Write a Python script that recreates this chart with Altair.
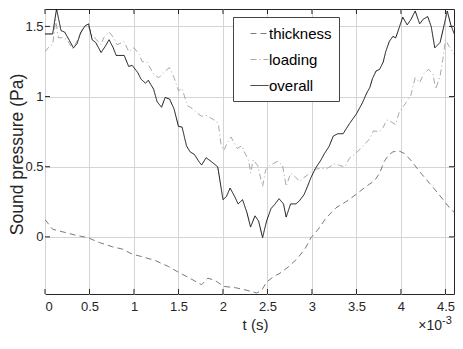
import altair as alt
import pandas as pd

# ---- data (t in units of 1e-3 s, sound pressure in Pa) ----
series_names = ["thickness", "loading", "overall"]

thickness_t = [0, 0.086, 0.235, 0.35, 0.48, 0.61, 0.76, 0.87, 0.98, 1.09, 1.24, 1.39, 1.50, 1.62, 1.76, 1.83,
               1.91, 2.01, 2.14, 2.27, 2.38, 2.435, 2.49, 2.57, 2.64, 2.73, 2.83, 2.92, 2.99, 3.07, 3.16, 3.27,
               3.39, 3.50, 3.61, 3.70, 3.76, 3.81, 3.86, 3.91, 3.975, 4.04, 4.11, 4.21, 4.32, 4.43, 4.54, 4.65]
thickness_p = [0.124, 0.054, 0.03, 0.011, -0.005, -0.04, -0.071, -0.087, -0.123, -0.141, -0.169, -0.212,
               -0.252, -0.292, -0.341, -0.294, -0.31, -0.353, -0.362, -0.381, -0.40, -0.381, -0.322, -0.282,
               -0.259, -0.216, -0.158, -0.087, -0.005, 0.054, 0.136, 0.207, 0.254, 0.305, 0.36, 0.399, 0.453,
               0.536, 0.583, 0.606, 0.613, 0.594, 0.547, 0.465, 0.383, 0.30, 0.212, 0.141]

loading_t = [0, 0.05, 0.086, 0.12, 0.15, 0.20, 0.25, 0.31, 0.37, 0.42, 0.48, 0.53, 0.58, 0.63, 0.66, 0.72,
             0.77, 0.81, 0.89, 0.94, 1.00, 1.06, 1.09, 1.15, 1.22, 1.28, 1.35, 1.40, 1.45, 1.50, 1.54, 1.60,
             1.65, 1.71, 1.76, 1.82, 1.865, 1.93, 1.95, 1.98, 2.01, 2.04, 2.09, 2.12, 2.16, 2.21, 2.24, 2.29,
             2.31, 2.34, 2.39, 2.445, 2.48, 2.53, 2.57, 2.62, 2.67, 2.71, 2.76, 2.81, 2.86, 2.90, 2.95, 2.99,
             3.05, 3.11, 3.16, 3.22, 3.27, 3.31, 3.37, 3.42, 3.50, 3.57, 3.65, 3.69, 3.76, 3.80, 3.84, 3.89,
             3.94, 3.98, 4.02, 4.06, 4.11, 4.16, 4.21, 4.26, 4.31, 4.36, 4.39, 4.44, 4.47, 4.50, 4.54, 4.58,
             4.61, 4.65]
loading_p = [1.319, 1.358, 1.37, 1.547, 1.418, 1.42, 1.405, 1.34, 1.405, 1.476, 1.511, 1.434, 1.405, 1.37,
             1.42, 1.462, 1.42, 1.37, 1.391, 1.32, 1.348, 1.299, 1.25, 1.243, 1.159, 1.135, 1.182, 1.206,
             1.135, 1.041, 1.058, 0.935, 0.917, 0.882, 0.86, 0.865, 0.846, 0.822, 0.794, 0.653, 0.618, 0.658,
             0.712, 0.677, 0.63, 0.649, 0.606, 0.54, 0.455, 0.55, 0.508, 0.36, 0.477, 0.512, 0.524, 0.54,
             0.508, 0.36, 0.453, 0.43, 0.395, 0.418, 0.441, 0.465, 0.484, 0.489, 0.484, 0.508, 0.524, 0.508,
             0.50, 0.56, 0.60, 0.645, 0.70, 0.755, 0.75, 0.78, 0.833, 0.82, 0.80, 0.889, 0.924, 0.959, 1.006,
             1.135, 1.10, 1.166, 1.194, 1.159, 1.053, 1.147, 1.264, 1.405, 1.358, 1.323, 1.288, 1.335]

overall_t = [0, 0.086, 0.13, 0.18, 0.22, 0.27, 0.32, 0.36, 0.40, 0.45, 0.49, 0.53, 0.57, 0.63, 0.675, 0.72,
             0.765, 0.80, 0.89, 0.94, 0.98, 1.04, 1.08, 1.13, 1.16, 1.22, 1.26, 1.31, 1.35, 1.40, 1.45, 1.50,
             1.54, 1.59, 1.63, 1.68, 1.73, 1.76, 1.81, 1.87, 1.94, 1.95, 2.00, 2.04, 2.08, 2.13, 2.17, 2.22,
             2.27, 2.31, 2.36, 2.40, 2.445, 2.49, 2.54, 2.58, 2.63, 2.68, 2.71, 2.76, 2.82, 2.86, 2.91, 2.95,
             2.99, 3.04, 3.10, 3.14, 3.19, 3.24, 3.29, 3.35, 3.42, 3.50, 3.57, 3.61, 3.65, 3.68, 3.72, 3.76,
             3.80, 3.83, 3.87, 3.91, 3.94, 3.96, 4.02, 4.07, 4.11, 4.16, 4.21, 4.25, 4.30, 4.34, 4.38, 4.44,
             4.49, 4.52, 4.56, 4.61, 4.65]
overall_p = [1.446, 1.446, 1.625, 1.47, 1.46, 1.405, 1.347, 1.377, 1.455, 1.504, 1.518, 1.405, 1.385, 1.314,
             1.356, 1.405, 1.35, 1.293, 1.293, 1.215, 1.222, 1.173, 1.123, 1.095, 1.116, 1.053, 0.963, 0.924,
             0.994, 0.982, 0.912, 0.787, 0.783, 0.649, 0.606, 0.587, 0.536, 0.512, 0.564, 0.536, 0.50, 0.465,
             0.265, 0.289, 0.348, 0.289, 0.235, 0.265, 0.171, 0.07, 0.15, 0.113, -0.005, 0.113, 0.202, 0.23,
             0.272, 0.235, 0.141, 0.235, 0.235, 0.258, 0.30, 0.36, 0.425, 0.489, 0.547, 0.594, 0.642, 0.719,
             0.735, 0.735, 0.806, 0.877, 0.959, 1.018, 1.065, 1.128, 1.182, 1.194, 1.245, 1.323, 1.394, 1.429,
             1.418, 1.453, 1.566, 1.511, 1.547, 1.61, 1.518, 1.551, 1.57, 1.499, 1.347, 1.386, 1.523, 1.61,
             1.511, 1.429, 1.464]

x_ticks = [0, 0.5, 1, 1.5, 2, 2.5, 3, 3.5, 4, 4.5]
y_ticks = [0, 0.5, 1, 1.5]
x_domain = [0, 4.596]
y_domain = [-0.407, 1.624]
exponent_text = ["\u00d710"]
exponent_sup = ["-3"]

# ---- build table ----
rows = []
for name, ts, ps in [("thickness", thickness_t, thickness_p),
                     ("loading", loading_t, loading_p),
                     ("overall", overall_t, overall_p)]:
    for t, p in zip(ts, ps):
        rows.append({"series": name, "t": t, "p": p})
df = pd.DataFrame(rows)

FONT = "Liberation Sans, Arial, sans-serif"
INK = "#262626"
W, H = 409, 285

xs = alt.Scale(domain=x_domain, nice=False, zero=False)
ys = alt.Scale(domain=y_domain, nice=False, zero=False)

leg = alt.Legend(
    title=None, orient="none", legendX=188, legendY=8,
    symbolType="stroke", symbolSize=324, symbolOffset=10,
    labelFont=FONT, labelFontSize=15, labelColor="black", labelOffset=0,
    labelExpr="datum.label + '\u00a0\u00a0\u00a0\u00a0'",
    padding=7, rowPadding=8,
    fillColor="white", strokeColor="#444444",
)

lines = alt.Chart(df).mark_line(clip=True).encode(
    x=alt.X("t:Q", scale=xs, axis=alt.Axis(
        values=x_ticks, title="t (s)", grid=True, gridColor="#d4d4d4", ticks=False, domain=False,
        labelFont=FONT, labelFontSize=13, labelColor=INK, labelPadding=6,
        labelExpr="datum.value + ''",
        titleFont=FONT, titleFontSize=15, titleColor=INK, titleFontWeight="normal",
        titleBaseline="alphabetic", titleX=210, titleY=35)),
    y=alt.Y("p:Q", scale=ys, axis=alt.Axis(
        values=y_ticks, title="Sound pressure (Pa)", grid=True, gridColor="#d4d4d4", ticks=False,
        domain=False, labelFont=FONT, labelFontSize=13, labelColor=INK, labelPadding=2,
        labelExpr="datum.value + ''",
        titleFont=FONT, titleFontSize=17.5, titleColor=INK, titleFontWeight="normal",
        titleBaseline="alphabetic", titleAlign="center", titleX=-22.5, titleY=145)),
    color=alt.Color("series:N", scale=alt.Scale(domain=series_names,
                                                range=["#7a7a7a", "#a8a8a8", "#111111"]), legend=leg),
    strokeDash=alt.StrokeDash("series:N", scale=alt.Scale(domain=series_names,
                                                          range=[[6, 4], [6, 3, 1, 3], [1, 0]]), legend=leg),
    strokeWidth=alt.StrokeWidth("series:N", scale=alt.Scale(domain=series_names,
                                                            range=[1, 1, 1.4]), legend=leg),
)

xt = pd.DataFrame({"t": x_ticks})
yt = pd.DataFrame({"p": y_ticks})
tick = dict(color=INK, strokeWidth=1)
x_bottom = alt.Chart(xt).mark_rule(**tick).encode(x=alt.X("t:Q", scale=xs), y=alt.value(H), y2=alt.value(H - 5))
x_top = alt.Chart(xt).mark_rule(**tick).encode(x=alt.X("t:Q", scale=xs), y=alt.value(0), y2=alt.value(5))
y_left = alt.Chart(yt).mark_rule(**tick).encode(y=alt.Y("p:Q", scale=ys), x=alt.value(0), x2=alt.value(5))
y_right = alt.Chart(yt).mark_rule(**tick).encode(y=alt.Y("p:Q", scale=ys), x=alt.value(W), x2=alt.value(W - 5))

exp_base = alt.Chart(pd.DataFrame({"s": exponent_text})).mark_text(
    font=FONT, fontSize=14, color=INK, align="right", baseline="alphabetic").encode(
    x=alt.value(W - 12), y=alt.value(H + 36), text="s:N")
exp_sup = alt.Chart(pd.DataFrame({"s": exponent_sup})).mark_text(
    font=FONT, fontSize=11, color=INK, align="left", baseline="alphabetic").encode(
    x=alt.value(W - 12), y=alt.value(H + 30), text="s:N")

chart = alt.layer(lines, x_bottom, x_top, y_left, y_right, exp_base, exp_sup).properties(
    width=W, height=H,
    padding={"left": 37, "top": 1, "right": 1, "bottom": 40},
    autosize=alt.AutoSizeParams(type="none"),
).configure_view(stroke=INK, strokeWidth=1)

chart.save("out.html", embed_options={"renderer": "svg", "actions": False})
